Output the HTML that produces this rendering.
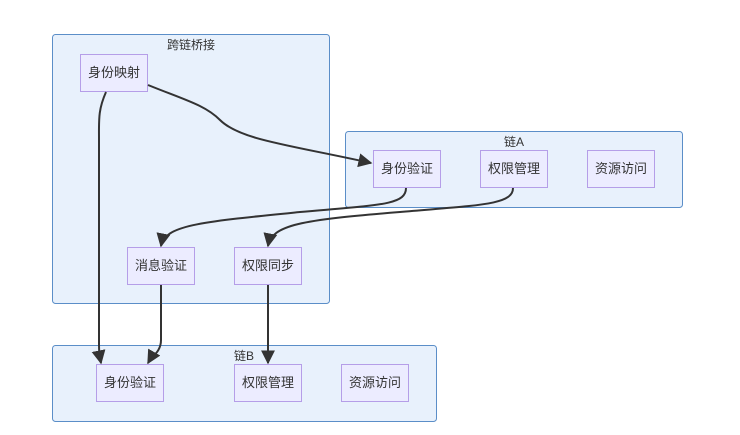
<!DOCTYPE html>
<html><head><meta charset="utf-8"><style>
body{margin:0;background:#fff;width:740px;height:430px;overflow:hidden;font-family:"Liberation Sans","Noto Sans CJK SC",sans-serif}
</style></head><body>
<svg width="740" height="430" xmlns="http://www.w3.org/2000/svg" font-family="Liberation Sans, Noto Sans CJK SC, sans-serif">
<defs><marker id="a" viewBox="0 0 10 10" refX="9" refY="5" markerWidth="7" markerHeight="7" orient="auto"><path d="M0,0L10,5L0,10z" fill="#333"/></marker></defs>
<g fill="#e8f1fc" stroke="#5b8ec8" stroke-width="1">
<rect x="52.5" y="34.5" width="277" height="269" rx="3"/>
<rect x="345.5" y="131.5" width="337" height="76" rx="3"/>
<rect x="52.5" y="345.5" width="384" height="76" rx="3"/>
</g>
<g font-size="12" fill="#333" text-anchor="middle">
<text x="191" y="49">跨链桥接</text>
<text x="514" y="146">链A</text>
<text x="244" y="360">链B</text>
</g>
<g fill="#ececff" stroke="#b59ee8" stroke-width="1">
<rect x="80.5" y="54.5" width="67" height="37"/>
<rect x="127.5" y="247.5" width="67" height="37"/>
<rect x="234.5" y="247.5" width="67" height="37"/>
<rect x="373.5" y="150.5" width="67" height="37"/>
<rect x="480.5" y="150.5" width="67" height="37"/>
<rect x="587.5" y="150.5" width="67" height="37"/>
<rect x="96.5" y="364.5" width="67" height="37"/>
<rect x="234.5" y="364.5" width="67" height="37"/>
<rect x="341.5" y="364.5" width="67" height="37"/>
</g>
<g font-size="13" fill="#333" text-anchor="middle">
<text x="114" y="77">身份映射</text>
<text x="161" y="270">消息验证</text>
<text x="268" y="270">权限同步</text>
<text x="407" y="173">身份验证</text>
<text x="514" y="173">权限管理</text>
<text x="621" y="173">资源访问</text>
<text x="130" y="387">身份验证</text>
<text x="268" y="387">权限管理</text>
<text x="375" y="387">资源访问</text>
</g>
<g fill="none" stroke="#333" stroke-width="2" marker-end="url(#a)">
<path d="M106,92 C98,110 99,120 99,140 L99,345 C99,355 100,358 101,363"/>
<path d="M148,85 C185,100 205,105 220,120 C240,140 290,145 371,163"/>
<path d="M406,188 C406,205 380,205 300,212 C200,222 165,225 161,246"/>
<path d="M513,188 C513,205 480,205 400,212 C300,220 272,225 268,246"/>
<path d="M161,285 L161,340 C161,352 152,356 148,363"/>
<path d="M268,285 L268,363"/>
</g>
</svg>
</body></html>
